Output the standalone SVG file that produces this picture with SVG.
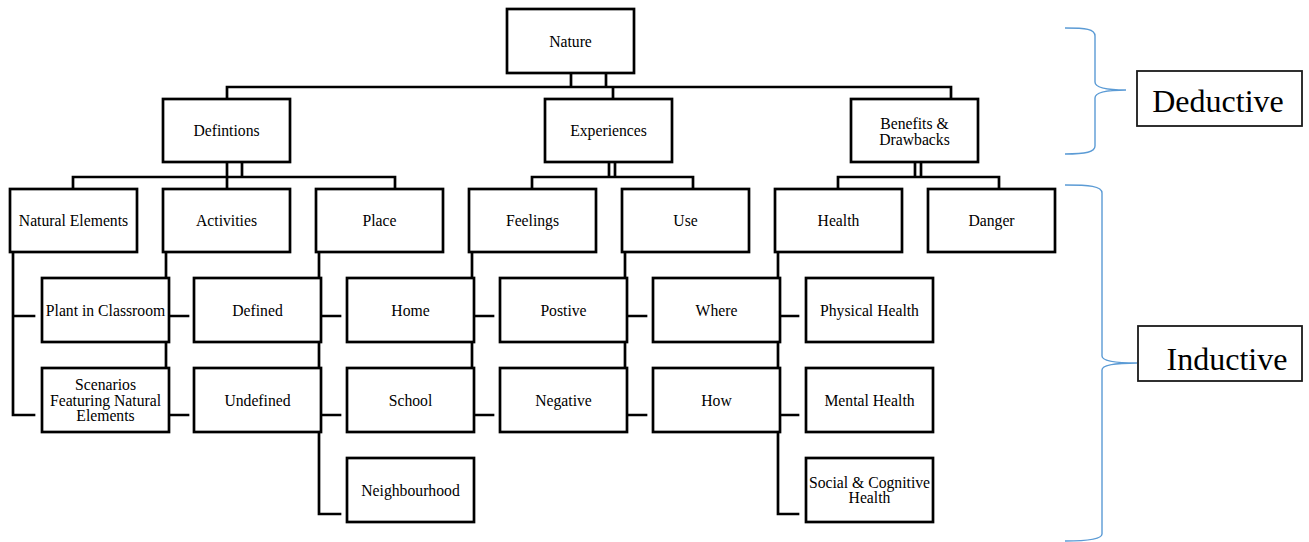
<svg xmlns="http://www.w3.org/2000/svg" width="1309" height="542" viewBox="0 0 1309 542">
<style>
.bg{fill:#ffffff}
.box{fill:#ffffff;stroke:#000;stroke-width:2.7}
.lbl{fill:#ffffff;stroke:#1a1a1a;stroke-width:1.8}
.t{font-family:"Liberation Serif","Times New Roman",serif;font-size:15.7px;fill:#000;text-anchor:middle}
.big{font-family:"Liberation Serif","Times New Roman",serif;font-size:32px;fill:#000;text-anchor:middle}
.conn path{fill:none;stroke:#000;stroke-width:2.7;stroke-linejoin:miter;stroke-linecap:square}
.brace{fill:none;stroke:#5B9BD5;stroke-width:1.4}
</style>
<rect class="bg" x="0" y="0" width="1309" height="542"/>
<g id="connectors" class="conn">
<path d="M571,73V87M606,73V87M227,87H951M227,87V99M613,87V99M951,87V99"/>
<path d="M227,162V177M242,162V177M73,177H395M73,177V189M227,177V189M395,177V189"/>
<path d="M609,162V177M615,162V177M532,177H693M532,177V189M693,177V189"/>
<path d="M915,162V177M921,162V177M838,177H999M838,177V189M999,177V189"/>
<path d="M13,252V415H34M13,316H34"/>
<path d="M166,252V415H188M166,316H188"/>
<path d="M319,252V514H340M319,316H340M319,415H340"/>
<path d="M472,252V415H493M472,316H493"/>
<path d="M625,252V415H646M625,316H646"/>
<path d="M778,252V514H798M778,316H798M778,415H798"/>
</g>
<g id="braces">
<path class="brace" d="M1065,28C1086,28 1095,29 1095,36L1095,82C1095,88 1106,90 1126,90C1106,90 1095,92 1095,98L1095,146C1095,152 1086,154 1065,154"/>
<path class="brace" d="M1065,185C1089,185 1102,186 1102,193L1102,356C1102,361 1116,363 1137,363C1116,363 1102,365 1102,370L1102,534C1102,539 1089,541 1065,541"/>
</g>
<g id="n-nature"><rect class="box" x="507" y="9" width="127" height="64"/><text class="t" x="570.5" y="46.5">Nature</text></g>
<g id="n-defintions"><rect class="box" x="163" y="99" width="127" height="63"/><text class="t" x="226.5" y="136">Defintions</text></g>
<g id="n-experiences"><rect class="box" x="545" y="99" width="127" height="63"/><text class="t" x="608.5" y="136">Experiences</text></g>
<g id="n-benefits"><rect class="box" x="851" y="99" width="127" height="63"/><text class="t" x="914.5" y="128.5">Benefits &amp;</text><text class="t" x="914.5" y="144.5">Drawbacks</text></g>
<g id="n-natural-elements"><rect class="box" x="10" y="189" width="127" height="63"/><text class="t" x="73.5" y="226">Natural Elements</text></g>
<g id="n-activities"><rect class="box" x="163" y="189" width="127" height="63"/><text class="t" x="226.5" y="226">Activities</text></g>
<g id="n-place"><rect class="box" x="316" y="189" width="127" height="63"/><text class="t" x="379.5" y="226">Place</text></g>
<g id="n-feelings"><rect class="box" x="469" y="189" width="127" height="63"/><text class="t" x="532.5" y="226">Feelings</text></g>
<g id="n-use"><rect class="box" x="622" y="189" width="127" height="63"/><text class="t" x="685.5" y="226">Use</text></g>
<g id="n-health"><rect class="box" x="775" y="189" width="127" height="63"/><text class="t" x="838.5" y="226">Health</text></g>
<g id="n-danger"><rect class="box" x="928" y="189" width="127" height="63"/><text class="t" x="991.5" y="226">Danger</text></g>
<g id="n-plant"><rect class="box" x="42" y="278" width="127" height="64"/><text class="t" x="105.5" y="315.5">Plant in Classroom</text></g>
<g id="n-defined"><rect class="box" x="194" y="278" width="127" height="64"/><text class="t" x="257.5" y="315.5">Defined</text></g>
<g id="n-home"><rect class="box" x="347" y="278" width="127" height="64"/><text class="t" x="410.5" y="315.5">Home</text></g>
<g id="n-postive"><rect class="box" x="500" y="278" width="127" height="64"/><text class="t" x="563.5" y="315.5">Postive</text></g>
<g id="n-where"><rect class="box" x="653" y="278" width="127" height="64"/><text class="t" x="716.5" y="315.5">Where</text></g>
<g id="n-physical"><rect class="box" x="806" y="278" width="127" height="64"/><text class="t" x="869.5" y="315.5">Physical Health</text></g>
<g id="n-scenarios"><rect class="box" x="42" y="368" width="127" height="64"/><text class="t" x="105.5" y="390">Scenarios</text><text class="t" x="105.5" y="405.5">Featuring Natural</text><text class="t" x="105.5" y="421">Elements</text></g>
<g id="n-undefined"><rect class="box" x="194" y="368" width="127" height="64"/><text class="t" x="257.5" y="405.5">Undefined</text></g>
<g id="n-school"><rect class="box" x="347" y="368" width="127" height="64"/><text class="t" x="410.5" y="405.5">School</text></g>
<g id="n-negative"><rect class="box" x="500" y="368" width="127" height="64"/><text class="t" x="563.5" y="405.5">Negative</text></g>
<g id="n-how"><rect class="box" x="653" y="368" width="127" height="64"/><text class="t" x="716.5" y="405.5">How</text></g>
<g id="n-mental"><rect class="box" x="806" y="368" width="127" height="64"/><text class="t" x="869.5" y="405.5">Mental Health</text></g>
<g id="n-neighbourhood"><rect class="box" x="347" y="458" width="127" height="64"/><text class="t" x="410.5" y="495.5">Neighbourhood</text></g>
<g id="n-social"><rect class="box" x="806" y="458" width="127" height="64"/><text class="t" x="869.5" y="487.5">Social &amp; Cognitive</text><text class="t" x="869.5" y="502.5">Health</text></g>
<g id="n-deductive"><rect class="lbl" x="1137" y="71" width="165" height="55"/><text class="big" x="1218" y="112">Deductive</text></g>
<g id="n-inductive"><rect class="lbl" x="1138" y="326" width="164" height="55"/><text class="big" x="1227" y="370">Inductive</text></g>
</svg>
